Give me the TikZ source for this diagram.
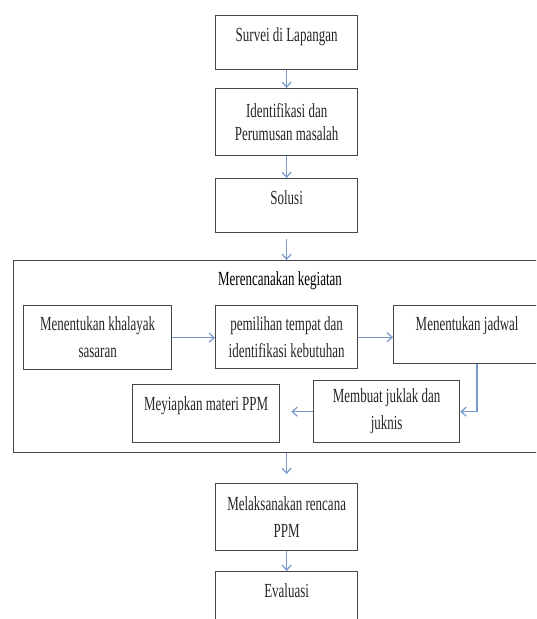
\documentclass[tikz,border=0pt]{standalone}
\usepackage{fontspec}
\setmainfont{Liberation Serif}[FakeStretch=0.65]
\usepackage{xcolor}
\usepackage{tikz}
\usetikzlibrary{arrows.meta,positioning,calc}

\definecolor{flowblue}{RGB}{118,152,205}
\definecolor{boxline}{RGB}{70,70,70}

\begin{document}
\begin{tikzpicture}[x=1pt,y=-1pt,
    font=\fontsize{20}{27}\selectfont,
    box/.style={draw=boxline,line width=1.3pt,anchor=north west,text=black!85,
                inner ysep=0pt},
    onebox/.style={box,text height=26pt,text depth=28pt,minimum height=0pt},
    twobox/.style={box,align=center},
    flow/.style={draw=flowblue,line width=1.2pt,-{Straight Barb[length=5pt,width=9pt]}}]
  \useasboundingbox (0,0) rectangle (536,619);
  \clip (0,0) rectangle (536,619);
  % main column
  \node[onebox,minimum width=142pt] (survei) at (215,15) {Survei di Lapangan};
  \node[twobox,minimum width=142pt,minimum height=67pt,
        font=\fontsize{20}{23}\selectfont] (ident) at (215,88) {Identifikasi dan\\Perumusan masalah};
  \node[onebox,minimum width=142pt] (solusi) at (215,178) {Solusi};
  % planning frame
  \node[box,minimum width=560pt,minimum height=192pt] (plan) at (13,260) {};
  \node (plantitle) at (280,281) {Merencanakan kegiatan};
  \node[twobox,minimum width=148pt,minimum height=64pt] (khalayak) at (23,305) {Menentukan khalayak\\sasaran};
  \node[twobox,minimum width=142pt,minimum height=63pt] (tempat) at (215,305) {pemilihan tempat dan\\identifikasi kebutuhan};
  \node[onebox,minimum width=147pt,text height=25pt,text depth=33pt] (jadwal) at (393,305) {Menentukan jadwal};
  \node[twobox,minimum width=146pt,minimum height=62pt] (juklak) at (313,380) {Membuat juklak dan\\juknis};
  \node[onebox,minimum width=147pt,text height=26pt,text depth=32pt] (materi) at (132,384) {Meyiapkan materi PPM};
  % after planning
  \node[twobox,minimum width=142pt,minimum height=67pt] (laksana) at (215,483) {Melaksanakan rencana\\PPM};
  \node[onebox,minimum width=142pt] (evaluasi) at (215,571) {Evaluasi};
  % connectors
  \draw[flow] (survei) -- (ident);
  \draw[flow] (ident) -- (solusi);
  \draw[flow,shorten <=6pt] (solusi.south) -- (solusi.south |- plan.north);
  \draw[flow] (khalayak.east) -- (khalayak.east -| tempat.west);
  \draw[flow] (tempat.east) -- (tempat.east -| jadwal.west);
  \draw[flow] ([xshift=84pt]jadwal.south west) |- (juklak.east);
  \draw[flow,shorten >=11pt] (juklak.west) -- (juklak.west -| materi.east);
  \draw[flow,shorten >=9pt] (laksana.north |- plan.south) -- (laksana.north);
  \draw[flow] (laksana) -- (evaluasi);
\end{tikzpicture}
\end{document}
